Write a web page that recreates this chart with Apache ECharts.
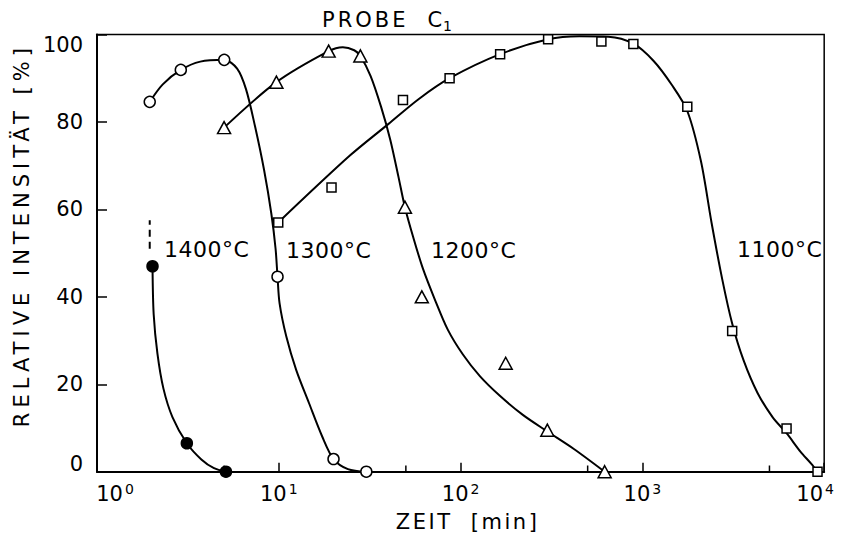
<!DOCTYPE html>
<html>
<head>
<meta charset="utf-8">
<script src="https://cdn.jsdelivr.net/npm/echarts@6/dist/echarts.min.js"></script>
<style>
html,body{margin:0;padding:0;background:#fff}
#c{width:855px;height:550px}
</style>
</head>
<body>
<div id="c"></div>
<script>
// ---- data ----
const xTickExponents = [0, 1, 2, 3, 4];
const yTicks = [0, 20, 40, 60, 80, 100];
const minorTickX = [5, 50, 500, 5000];
const temps = ['1400°C', '1300°C', '1200°C', '1100°C'];

// measured points
const pts1400 = [[2.02, 47], [3.12, 6.5], [5.12, 0]];
const pts1300 = [[1.95, 84.6], [2.89, 91.9], [5.01, 94.2], [9.84, 44.6], [20, 2.9], [30.3, 0]];
const pts1200 = [[5.0, 78.7], [9.7, 89.1], [18.8, 96.2], [28.1, 95.1], [49.4, 60.5], [61.2, 40], [177, 24.8], [300, 9.5], [620, 0]];
const pts1100 = [[9.93, 57], [19.5, 65], [48.2, 85], [87, 90], [165, 95.5], [303, 98.9], [595, 98.4], [892, 97.8], [1766, 83.5], [3118, 32.2], [6209, 9.9], [9190, 0]];

// hand-drawn fit curves
const curve1400 = [[2.02, 47], [2.05, 36], [2.15, 27], [2.32, 19], [2.6, 12.5], [3.12, 6.5], [3.75, 2.8], [4.4, 0.8], [5.12, 0]];
const curve1300 = [[1.95, 84.6], [2.3, 88.6], [2.89, 91.9], [3.7, 93.8], [5.01, 94.2], [5.9, 92.2], [6.6, 87.5], [7.4, 79], [8.3, 69], [9.1, 59], [9.6, 51], [9.84, 44.6], [10.1, 38.5], [11, 30.9], [12.46, 23.3], [14.69, 15.6], [17.35, 8], [20, 2.9], [24, 0.6], [30.3, 0]];
const curve1200 = [[5.0, 78.7], [9.7, 89.1], [18.8, 96.2], [22.5, 97.1], [26, 96.4], [28.1, 95.1], [32, 90.5], [36.5, 83.5], [41, 76], [45.5, 67.5], [49.4, 60.5], [55, 53.5], [62, 46.5], [72, 39.5], [85, 32.5], [103, 26.8], [128, 21.8], [165, 17.3], [220, 13.0], [300, 9.2], [420, 5.2], [620, 0]];
const curve1100 = [[9.93, 57], [24.6, 72.3], [40, 79.5], [58.7, 85.2], [87, 90], [165, 95.5], [303, 98.9], [450, 99.6], [650, 99.5], [892, 97.9], [1150, 94], [1450, 88.5], [1766, 82.5], [2100, 71], [2400, 57], [2750, 44], [3118, 33.9], [3600, 25.5], [4300, 18], [5200, 12.5], [6209, 8.8], [7400, 4.6], [8500, 1.8], [9190, 0]];
const dash1400 = [[1.95, 51], [1.95, 57.5]];

// ---- chart ----
const FONT = 'DejaVu Sans';
const chart = echarts.init(document.getElementById('c'), null, {renderer: 'svg'});

function curveSeries(data) {
  return {
    type: 'line', data: data, smooth: 0.3,
    showSymbol: false, symbol: 'none', silent: true, z: 2,
    lineStyle: {color: '#000', width: 2}
  };
}
function markSeries(data, symbol, size, fill) {
  return {
    type: 'scatter', data: data, symbol: symbol, symbolSize: size, z: 5, silent: true,
    itemStyle: {color: fill, borderColor: '#000', borderWidth: 1.5, opacity: 1}
  };
}
function minorTickSeries(x) {
  return {
    type: 'line', data: [[x, 0], [x, 1.4]], showSymbol: false, symbol: 'none', silent: true, z: 1,
    lineStyle: {color: '#000', width: 1.5}
  };
}

const option = {
  animation: false,
  backgroundColor: '#fff',
  title: {
    text: '{p|PROBE}{c|C}{s|1}',
    left: 317, top: 2,
    textStyle: {
      fontWeight: 'normal',
      rich: {
        p: {fontFamily: FONT, fontSize: 21, fontWeight: 'normal', color: '#000', lineHeight: 26},
        c: {fontFamily: FONT, fontSize: 21, fontWeight: 'normal', color: '#000', lineHeight: 26, padding: [0, 0, 0, 34]},
        s: {fontFamily: FONT, fontSize: 14, fontWeight: 'normal', color: '#000', verticalAlign: 'bottom', lineHeight: 16, padding: [0, 0, 0, 1]}
      }
    }
  },
  grid: {left: 97, right: 16, top: 34.5, bottom: 78.3, show: true, borderColor: '#000', borderWidth: 1.5},
  xAxis: {
    type: 'log', logBase: 10, min: 1, max: 10000,
    name: 'ZEIT  [min]', nameLocation: 'middle', nameGap: 40,
    nameTextStyle: {fontFamily: FONT, fontSize: 21, color: '#000', padding: [0, 0, 0, 14]},
    axisLine: {lineStyle: {color: '#000', width: 2}},
    axisTick: {inside: true, length: 9, lineStyle: {color: '#000', width: 1.5}},
    splitLine: {show: false},
    axisLabel: {
      margin: 10,
      formatter: function (v) {
        const e = Math.round(Math.log10(v));
        const i = xTickExponents.indexOf(e);
        if (i < 0) return '';
        const a = i === 0 ? 'a0' : 'a';
        const s = i === xTickExponents.length - 1 ? 's4' : 's';
        return '{' + a + '|10}{' + s + '|' + xTickExponents[i] + '}';
      },
      rich: {
        a: {fontFamily: FONT, fontSize: 21, color: '#000', lineHeight: 24},
        a0: {fontFamily: FONT, fontSize: 21, color: '#000', lineHeight: 24, padding: [0, 0, 0, 36]},
        s: {fontFamily: FONT, fontSize: 14, color: '#000', lineHeight: 16, verticalAlign: 'top', padding: [0, 0, 0, 2]},
        s4: {fontFamily: FONT, fontSize: 14, color: '#000', lineHeight: 16, verticalAlign: 'top', padding: [0, 18, 0, 2]}
      }
    }
  },
  yAxis: {
    type: 'value', min: yTicks[0], max: yTicks[yTicks.length - 1], interval: yTicks[1] - yTicks[0],
    name: 'RELATIVE INTENSITÄT [%]', nameLocation: 'middle', nameRotate: 90, nameGap: 60,
    nameTextStyle: {fontFamily: FONT, fontSize: 21, color: '#000', padding: [0, 0, 0, 36]},
    axisLine: {show: true, lineStyle: {color: '#000', width: 2}},
    axisTick: {show: true, inside: true, length: 10, lineStyle: {color: '#000', width: 1.5}},
    splitLine: {show: false},
    axisLabel: {
      margin: 14, fontFamily: FONT, fontSize: 21, color: '#000',
      formatter: function (v) {
        if (v === yTicks[yTicks.length - 1]) return '{t|' + v + '}';
        if (v === yTicks[0]) return '{b|' + v + '}';
        return '{n|' + v + '}';
      },
      rich: {
        n: {fontFamily: FONT, fontSize: 21, color: '#000'},
        t: {fontFamily: FONT, fontSize: 21, color: '#000', padding: [20, 0, 0, 0]},
        b: {fontFamily: FONT, fontSize: 21, color: '#000', padding: [0, 0, 16, 0]}
      }
    }
  },
  graphic: [
    {type: 'text', z: 10, style: {text: temps[0], x: 164, y: 249, verticalAlign: 'middle', align: 'left', font: '22px "DejaVu Sans"', fill: '#000'}},
    {type: 'text', z: 10, style: {text: temps[1], x: 286, y: 250, verticalAlign: 'middle', align: 'left', font: '22px "DejaVu Sans"', fill: '#000'}},
    {type: 'text', z: 10, style: {text: temps[2], x: 431, y: 250, verticalAlign: 'middle', align: 'left', font: '22px "DejaVu Sans"', fill: '#000'}},
    {type: 'text', z: 10, style: {text: temps[3], x: 737, y: 249, verticalAlign: 'middle', align: 'left', font: '22px "DejaVu Sans"', fill: '#000'}}
  ],
  series: [
    curveSeries(curve1400),
    curveSeries(curve1300),
    curveSeries(curve1200),
    curveSeries(curve1100),
    {
      type: 'line', data: dash1400, showSymbol: false, symbol: 'none', silent: true, z: 2,
      lineStyle: {color: '#000', width: 2, type: [7, 5]}
    }
  ].concat(minorTickX.map(minorTickSeries)).concat([
    markSeries(pts1400, 'circle', 11, '#000'),
    markSeries(pts1300, 'circle', 11, '#fff'),
    markSeries(pts1200, 'triangle', [13, 12], '#fff'),
    markSeries(pts1100, 'rect', 9, '#fff')
  ])
};
chart.setOption(option);

function spacing() {
  document.querySelectorAll('#c svg text').forEach(function (t) {
    const s = t.textContent || '';
    if (s.indexOf('RELATIVE') >= 0) t.style.letterSpacing = '5px';
    else if (s.indexOf('ZEIT') >= 0) t.style.letterSpacing = '2.5px';
    else if (s.indexOf('PROBE') >= 0) t.style.letterSpacing = '3px';
    else if (s.indexOf('°C') >= 0) t.style.letterSpacing = '0.5px';
  });
}
spacing();
chart.on('finished', spacing);
</script>
</body>
</html>
